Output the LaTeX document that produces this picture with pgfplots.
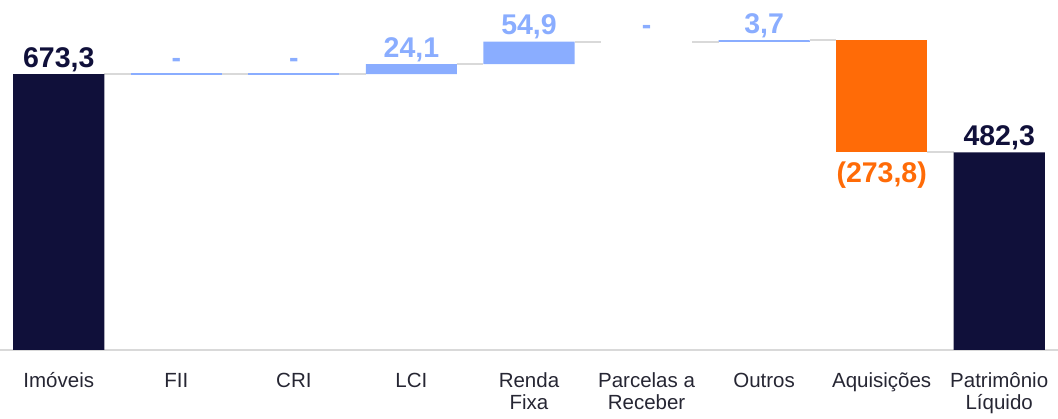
\documentclass[border=0pt]{standalone}
\usepackage{pgfplots}
\pgfplotsset{compat=1.18}
\usepackage{pgfplotstable}
\usepackage{fontspec}
\setmainfont{Liberation Sans}
\definecolor{navy}{HTML}{10103A}
\definecolor{lblue}{HTML}{8AADFF}
\definecolor{orng}{HTML}{FF6B07}
\definecolor{conn}{HTML}{D9D9D9}
\definecolor{ticktxt}{HTML}{262633}

\pgfplotstableread{
x base navy blue orange
0 0     673.3 0    0
1 673.3 0     0    0
2 673.3 0     0    0
3 673.3 0     24.1 0
4 697.4 0     54.9 0
5 752.3 0     0    0
6 752.3 0     3.7  0
7 482.2 0     0    273.8
8 0     482.3 0    0
}\wfdata

\pgfplotstableread{
x y
0.3875 673.3
0.6125 673.3
0.7 nan
1.3875 673.3
1.6125 673.3
1.7 nan
2.3875 673.3
2.6125 673.3
2.7 nan
3.3875 697.4
3.6125 697.4
3.7 nan
4.3875 752.3
4.6125 752.3
4.7 nan
5.3875 752.3
5.6125 752.3
5.7 nan
6.3875 756.0
6.6125 756.0
6.7 nan
7.3875 482.2
7.6125 482.2
}\conndata

\pgfplotstableread{
x y
0.6125 673.3
1.3875 673.3
1.5 nan
1.6125 673.3
2.3875 673.3
2.5 nan
5.6125 752.3
6.3875 752.3
}\zerodata

\pgfplotsset{wf/.style={
  scale only axis, width=1058pt, height=350pt,
  xmin=-0.5, xmax=8.5, ymin=0, ymax=854,
  clip=false,
}}

\newcommand{\vfont}{\fontsize{28.5}{32}\selectfont\bfseries}

\begin{document}
\begin{tikzpicture}
\begin{axis}[wf, hide axis, unbounded coords=jump]
\addplot[conn, line width=2pt] table[x=x,y=y] {\conndata};
\addplot[lblue, line width=1.6pt] table[x=x,y=y] {\zerodata};
\end{axis}
\begin{axis}[wf,
  ybar stacked, bar width=0.775,
  axis y line=none, axis x line=bottom,
  x axis line style={-, draw=conn, line width=2pt},
  xtick={0,...,8},
  xticklabels={Imóveis, FII, CRI, LCI, {Renda\\Fixa}, {Parcelas a\\Receber}, Outros, Aquisições, {Patrimônio\\Líquido}},
  typeset ticklabels with strut,
  xticklabel style={align=center, font=\fontsize{20.5}{22}\selectfont, text=ticktxt, yshift=-19pt},
  major tick length=0pt,
]
\addplot[draw=none, fill=none] table[x=x,y=base] {\wfdata};
\addplot[draw=none, fill=navy] table[x=x,y=navy] {\wfdata};
\addplot[draw=none, fill=lblue] table[x=x,y=blue] {\wfdata};
\addplot[draw=none, fill=orng] table[x=x,y=orange] {\wfdata};

\node[anchor=base, yshift=7pt, text=navy, font=\vfont] at (axis cs:0,673.3) {673,3};
\node[anchor=base, yshift=7pt, text=lblue, font=\vfont] at (axis cs:1,673.3) {-};
\node[anchor=base, yshift=7pt, text=lblue, font=\vfont] at (axis cs:2,673.3) {-};
\node[anchor=base, yshift=7pt, text=lblue, font=\vfont] at (axis cs:3,697.4) {24,1};
\node[anchor=base, yshift=7pt, text=lblue, font=\vfont] at (axis cs:4,752.3) {54,9};
\node[anchor=base, yshift=7pt, text=lblue, font=\vfont] at (axis cs:5,752.3) {-};
\node[anchor=base, yshift=7pt, text=lblue, font=\vfont] at (axis cs:6,756.0) {3,7};
\node[anchor=base, yshift=-30pt, text=orng, font=\vfont] at (axis cs:7,482.2) {(273,8)};
\node[anchor=base, yshift=7pt, text=navy, font=\vfont] at (axis cs:8,482.3) {482,3};
\end{axis}
\pgfresetboundingbox
\path (0,-69pt) rectangle (1058pt,350pt);
\end{tikzpicture}
\end{document}
